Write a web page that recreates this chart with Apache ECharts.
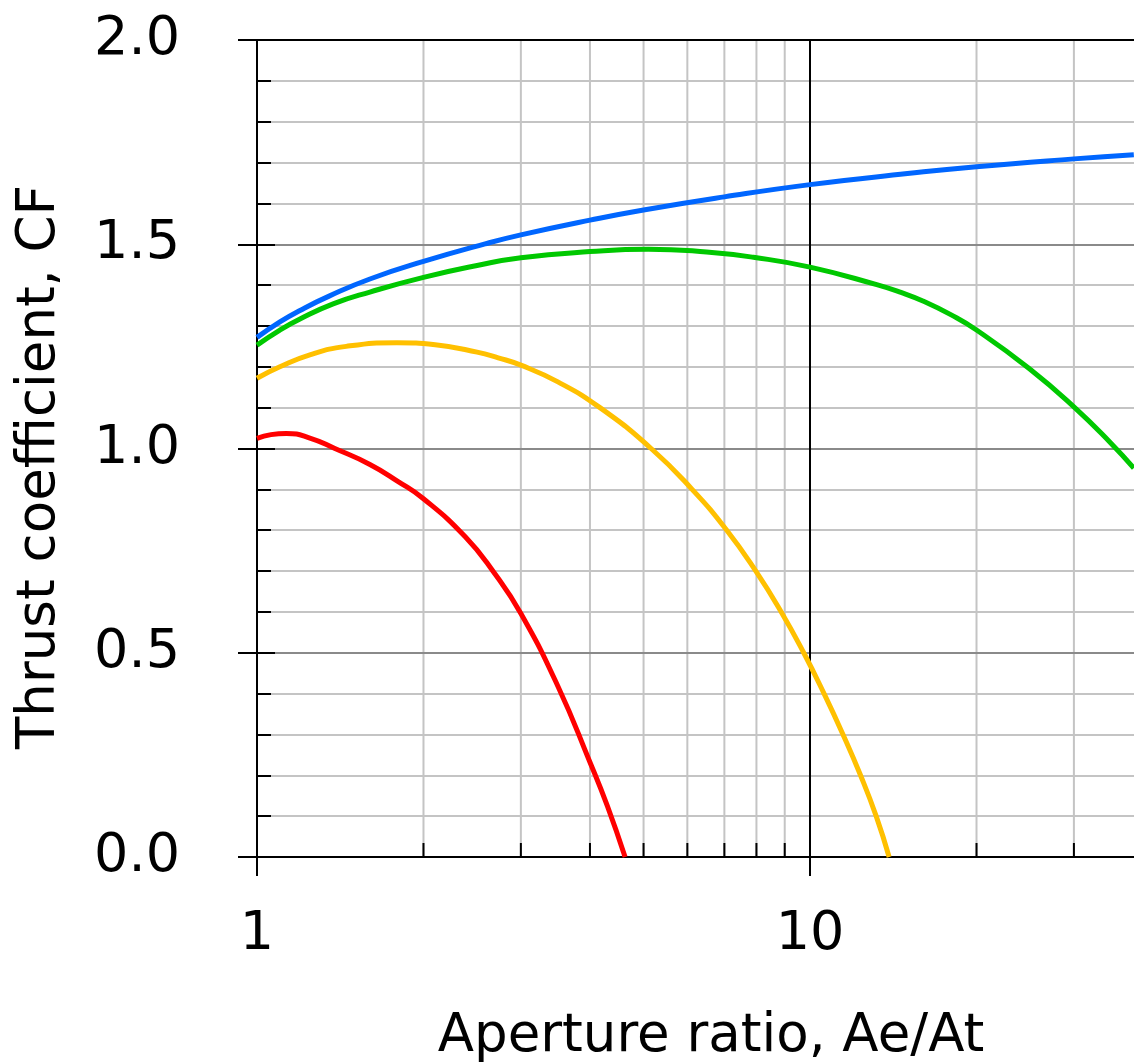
<!DOCTYPE html>
<html><head><meta charset="utf-8">
<script src="https://cdn.jsdelivr.net/npm/echarts@6/dist/echarts.min.js"></script>
<style>html,body{margin:0;padding:0;overflow:hidden;background:#fff}#c{width:1200px;height:1064px}</style>
</head><body><div id="c"></div>
<script>
// ---- data ----
const xTickLabels = ['1', '10'];
const minorXTicks = [2, 3, 4, 5, 6, 7, 8, 9, 20, 30];

const ratioBlue = [1, 1.1, 1.196, 1.35, 1.6, 2, 2.585, 3, 4, 5, 7, 10, 15, 20, 30, 38.5];
const cfBlue    = [1.272, 1.310, 1.338, 1.373, 1.415, 1.458, 1.501, 1.523, 1.559, 1.584, 1.616, 1.646, 1.673, 1.690, 1.709, 1.719];

const ratioGreen = [1, 1.1, 1.196, 1.373, 1.6, 2, 2.5, 3, 4, 5.1, 6.5, 7.9, 10, 13.2, 14.6, 16, 18, 20, 24.9, 30, 35, 38.5];
const cfGreen    = [1.253, 1.290, 1.317, 1.354, 1.383, 1.419, 1.448, 1.467, 1.482, 1.488, 1.481, 1.468, 1.444, 1.401, 1.382, 1.361, 1.327, 1.290, 1.196, 1.102, 1.013, 0.952];

const ratioYellow = [1, 1.1, 1.25, 1.45, 1.79, 2.1, 2.5, 2.73, 3, 3.5, 4.17, 5.16, 6.12, 7.07, 7.98, 8.87, 9.74, 10.6, 11.47, 12.34, 13.17, 13.9];
const cfYellow    = [1.172, 1.200, 1.230, 1.250, 1.259, 1.254, 1.236, 1.222, 1.204, 1.163, 1.100, 1.000, 0.900, 0.800, 0.700, 0.600, 0.500, 0.400, 0.300, 0.200, 0.100, 0.0];

const ratioRed = [1, 1.06, 1.13, 1.25, 1.383, 1.6, 1.8, 2, 2.38, 2.68, 3, 3.5, 4, 4.3, 4.63];
const cfRed    = [1.025, 1.034, 1.037, 1.025, 1.000, 0.961, 0.919, 0.877, 0.784, 0.697, 0.596, 0.418, 0.232, 0.125, 0.0];

// ---- chart ----
const FONT = 'DejaVu Sans';
const zip = (xs, ys) => xs.map((x, i) => [x, ys[i]]);
const chart = echarts.init(document.getElementById('c'), null, { renderer: 'canvas' });

const lineSeries = (xs, ys, color) => ({
  type: 'line', data: zip(xs, ys), showSymbol: false, smooth: 0.5,
  lineStyle: { color: color, width: 5 }, z: 5, silent: true
});

const option = {
  animation: false,
  textStyle: { fontFamily: FONT },
  grid: { left: 257, right: 57, top: 40, bottom: 207, containLabel: false, outerBoundsMode: 'none' },
  xAxis: [{
    type: 'log', logBase: 10, min: 1, max: 40,
    name: 'Aperture ratio, Ae/At', nameLocation: 'middle', nameGap: 154,
    nameTextStyle: { fontSize: 53, fontFamily: FONT, color: '#000', padding: [0, 0, 0, 22] },
    axisLine: { show: true, lineStyle: { color: '#000', width: 2 } },
    axisTick: { show: true, inside: false, length: 19, lineStyle: { color: '#000', width: 2 } },
    axisLabel: {
      fontSize: 54, fontFamily: FONT, color: '#000', margin: 51,
      formatter: v => {
        const s = String(Math.round(v));
        return (Math.abs(v - Math.round(v)) < 1e-6 && xTickLabels.includes(s)) ? s : '';
      }
    },
    splitLine: { show: true, lineStyle: { color: '#000', width: 2 } }
  }],
  yAxis: [{
    type: 'value', min: 0, max: 2, interval: 0.5, position: 'left',
    name: 'Thrust coefficient, CF', nameLocation: 'middle', nameRotate: 90, nameGap: 190,
    nameTextStyle: { fontSize: 53, fontFamily: FONT, color: '#000', padding: [0, 37, 0, 0] },
    axisLine: { show: true, lineStyle: { color: '#000', width: 2 } },
    axisTick: { show: true, inside: false, length: 19, lineStyle: { color: '#000', width: 2 } },
    axisLabel: { fontSize: 54, fontFamily: FONT, color: '#000', margin: 77, formatter: v => v.toFixed(1) },
    splitLine: { show: true, lineStyle: { color: ['#000', '#8a8a8a', '#8a8a8a', '#8a8a8a', '#000'], width: 2 } },
    minorTick: { show: false, splitNumber: 5 },
    minorSplitLine: { show: true, lineStyle: { color: '#c4c4c4', width: 2 } }
  }, {
    type: 'value', min: 0, max: 2, interval: 0.1, position: 'left', offset: 0,
    axisLine: { show: false },
    axisTick: { show: true, inside: true, length: 14, lineStyle: { color: '#000', width: 2 } },
    axisLabel: { show: false }, splitLine: { show: false }
  }, {
    type: 'value', min: 0, max: 2, interval: 0.5, position: 'left', offset: 0,
    axisLine: { show: false },
    axisTick: { show: true, inside: true, length: 18, lineStyle: { color: '#000', width: 2 } },
    axisLabel: { show: false }, splitLine: { show: false }
  }],
  series: [{
    type: 'custom', silent: true, z: -1,
    data: minorXTicks.map(v => [v]),
    encode: { x: 0 },
    renderItem: (params, api) => {
      const v = api.value(0);
      const p0 = api.coord([v, 0]);
      const p1 = api.coord([v, 2]);
      return {
        type: 'group', children: [
          { type: 'line', shape: { x1: p0[0], y1: p0[1], x2: p1[0], y2: p1[1] }, style: { stroke: '#c4c4c4', lineWidth: 2 } },
          { type: 'line', shape: { x1: p0[0], y1: p0[1], x2: p0[0], y2: p0[1] - 14 }, style: { stroke: '#000', lineWidth: 2 } }
        ]
      };
    }
  },
  lineSeries(ratioBlue, cfBlue, '#0066ff'),
  lineSeries(ratioGreen, cfGreen, '#00c800'),
  lineSeries(ratioYellow, cfYellow, '#ffc000'),
  lineSeries(ratioRed, cfRed, '#ff0000')
  ]
};
chart.setOption(option);
</script>
</body></html>
